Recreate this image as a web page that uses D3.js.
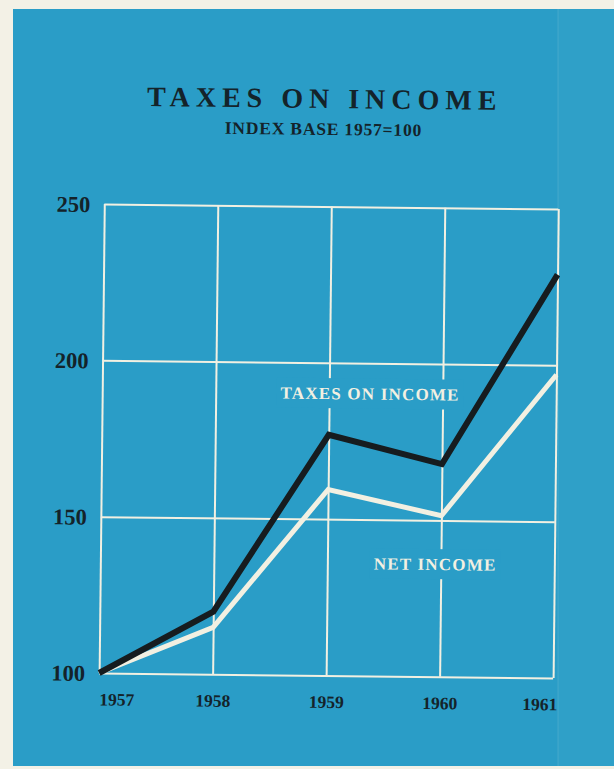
<!DOCTYPE html>
<html>
<head>
<meta charset="utf-8">
<script src="https://cdn.jsdelivr.net/npm/d3@7"></script>
<style>
  html, body { margin: 0; padding: 0; background: #f3f1e6; }
  svg { display: block; }
</style>
</head>
<body>
<svg id="chart" width="614" height="769"></svg>
<script>
// Index values, 1957 = 100
const years = [1957, 1958, 1959, 1960, 1961];
const taxesOnIncome = [100, 120, 177, 168, 229];
const netIncome = [100, 115, 159.5, 151.5, 197];
const yTickValues = [100, 150, 200, 250];

const title = "TAXES ON INCOME";
const subtitle = "INDEX BASE 1957=100";
const seriesLabels = ["TAXES ON INCOME", "NET INCOME"];

const W = 614, H = 769;
const BLUE = "#2a9dc7";
const BLUE_EDGE = "#2fa0c8";
const INK = "#14232a";
const CREAM = "#f2f0e2";
const SERIF = "'Liberation Serif', 'Times New Roman', serif";

const svg = d3.select("#chart");

// paper and printed panel
svg.append("rect").attr("width", W).attr("height", H).attr("fill", "#f3f1e6");
svg.append("rect").attr("x", 13).attr("y", 9).attr("width", W - 13).attr("height", 757).attr("fill", BLUE);
svg.append("rect").attr("x", 558).attr("y", 9).attr("width", W - 558).attr("height", 757).attr("fill", BLUE_EDGE);
svg.append("line").attr("x1", 558).attr("x2", 558).attr("y1", 9).attr("y2", 766)
  .attr("stroke", "#5db3cf").attr("stroke-width", 1).attr("opacity", 0.5);

const margin = { left: 101.7, right: W - 555.7, top: 206.5, bottom: H - 675.5 };
const iw = W - margin.left - margin.right;
const ih = H - margin.top - margin.bottom;

// whole print sits slightly askew
const g = svg.append("g")
  .attr("transform", `rotate(0.63, ${margin.left + iw / 2}, ${margin.top + ih / 2})`);

const x = d3.scaleLinear().domain([years[0], years[years.length - 1]]).range([margin.left, margin.left + iw]);
const y = d3.scaleLinear().domain([100, 250]).range([margin.top + ih, margin.top]);

// titles
g.append("text")
  .attr("x", 321).attr("y", 108)
  .attr("text-anchor", "middle")
  .attr("font-family", SERIF).attr("font-weight", "bold")
  .attr("font-size", 28).attr("letter-spacing", 6)
  .attr("fill", INK)
  .text(title);

g.append("text")
  .attr("x", 320).attr("y", 135)
  .attr("text-anchor", "middle")
  .attr("font-family", SERIF).attr("font-weight", "bold")
  .attr("font-size", 17.5).attr("letter-spacing", 0.8)
  .attr("fill", INK)
  .text(subtitle);

// grid (white rules)
const gridY = g.append("g")
  .attr("transform", `translate(${margin.left},0)`)
  .call(d3.axisLeft(y).tickValues(yTickValues).tickSize(-iw).tickFormat(""));
const gridX = g.append("g")
  .attr("transform", `translate(0,${margin.top + ih})`)
  .call(d3.axisBottom(x).tickValues(years).tickSize(-ih).tickFormat(""));
[gridX, gridY].forEach(a => {
  a.select(".domain").remove();
  a.selectAll(".tick line").attr("stroke", CREAM).attr("stroke-width", 2);
});

// y labels
const yAxis = g.append("g")
  .attr("transform", `translate(${margin.left - 14},0)`)
  .call(d3.axisLeft(y).tickValues(yTickValues).tickSize(0).tickPadding(0).tickFormat(d3.format("d")));
yAxis.select(".domain").remove();
yAxis.selectAll("text")
  .attr("font-family", SERIF).attr("font-weight", "bold").attr("font-size", 22.5)
  .attr("fill", INK).attr("dy", "0.34em");

// x labels
const xAxis = g.append("g")
  .attr("transform", `translate(0,${margin.top + ih + 20})`)
  .call(d3.axisBottom(x).tickValues(years).tickSize(0).tickPadding(0).tickFormat(d3.format("d")));
xAxis.select(".domain").remove();
xAxis.selectAll("text")
  .attr("font-family", SERIF).attr("font-weight", "bold").attr("font-size", 17.5)
  .attr("fill", INK).attr("dy", "0.71em")
  .attr("text-anchor", (d, i) => i === 0 ? "start" : i === years.length - 1 ? "end" : "middle")
  .attr("dx", (d, i) => i === years.length - 1 ? 4 : 0);

// series lines
const line = d3.line().x(d => x(d[0])).y(d => y(d[1]));
g.append("path")
  .datum(years.map((yr, i) => [yr, netIncome[i]]))
  .attr("d", line)
  .attr("fill", "none").attr("stroke", CREAM).attr("stroke-width", 5)
  .attr("stroke-linejoin", "miter");
g.append("path")
  .datum(years.map((yr, i) => [yr, taxesOnIncome[i]]))
  .attr("d", line)
  .attr("fill", "none").attr("stroke", "#161c1f").attr("stroke-width", 6)
  .attr("stroke-linejoin", "miter");

// series labels, set on knocked-out panels that break the grid rules
const labelPos = [
  { text: seriesLabels[0], cx: x(1959.36), cy: y(190.3) },
  { text: seriesLabels[1], cx: x(1959.95), cy: y(136) }
];
labelPos.forEach(p => {
  const lg = g.append("g");
  const t = lg.append("text")
    .attr("x", p.cx).attr("y", p.cy).attr("dy", "0.35em")
    .attr("text-anchor", "middle")
    .attr("font-family", SERIF).attr("font-weight", "bold")
    .attr("font-size", 17).attr("letter-spacing", 1.2)
    .attr("fill", CREAM)
    .text(p.text);
  const bb = t.node().getBBox();
  lg.insert("rect", "text")
    .attr("x", bb.x - 4).attr("y", p.cy - 15)
    .attr("width", bb.width + 8).attr("height", 30)
    .attr("fill", BLUE);
});
</script>
</body>
</html>
